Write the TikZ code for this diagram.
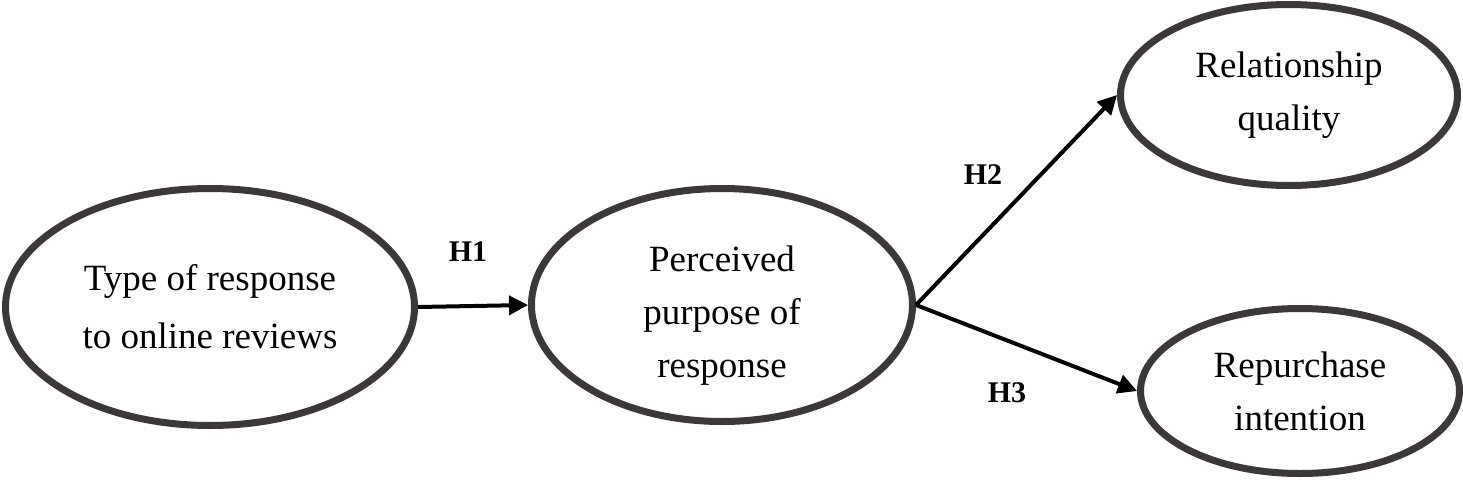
\documentclass[tikz,border=0pt]{standalone}
\usepackage{fontspec}
\setmainfont{Liberation Serif}
\usepackage{tikz}
\usetikzlibrary{arrows.meta,shapes.geometric}
\definecolor{rimgray}{RGB}{60,56,57}

\begin{document}
\begin{tikzpicture}[x=0.5pt,y=0.5pt,
  construct/.style={ellipse,draw=rimgray,line width=3.5pt,inner sep=0pt,
    align=center,font=\fontsize{18.5}{26.5}\selectfont},
  hyp/.style={font=\fontsize{15}{18}\selectfont\bfseries},
  link/.style={-{Triangle[length=9.5pt,width=9.5pt]},line width=2pt}]
\useasboundingbox (0,0) rectangle (1463,479);
% constructs
\node[construct,minimum width=204.5pt,minimum height=118.5pt,
  font=\fontsize{18.5}{29}\selectfont] (type) at (210,172) {Type of response\\to online reviews};
\node[construct,minimum width=190.5pt,minimum height=116.5pt] (purpose) at (722,174) {\rule{0pt}{23pt}Perceived\\purpose of\\response};
\node[construct,minimum width=168.5pt,minimum height=90.5pt] (quality) at (1289,384) {Relationship\\quality};
\node[construct,minimum width=159.5pt,minimum height=82.5pt] (repurchase) at (1300,88) {Repurchase\\intention};
% hypotheses
\draw[link] (type.east) -- (purpose.west);
\draw[link] (purpose.east) -- (quality.west);
\draw[link] (purpose.east) -- (repurchase.west);
\node[hyp] (h1) at (468,227) {H1};
\node[hyp] (h2) at (983,304) {H2};
\node[hyp] (h3) at (1007,86) {H3};
\end{tikzpicture}
\end{document}
